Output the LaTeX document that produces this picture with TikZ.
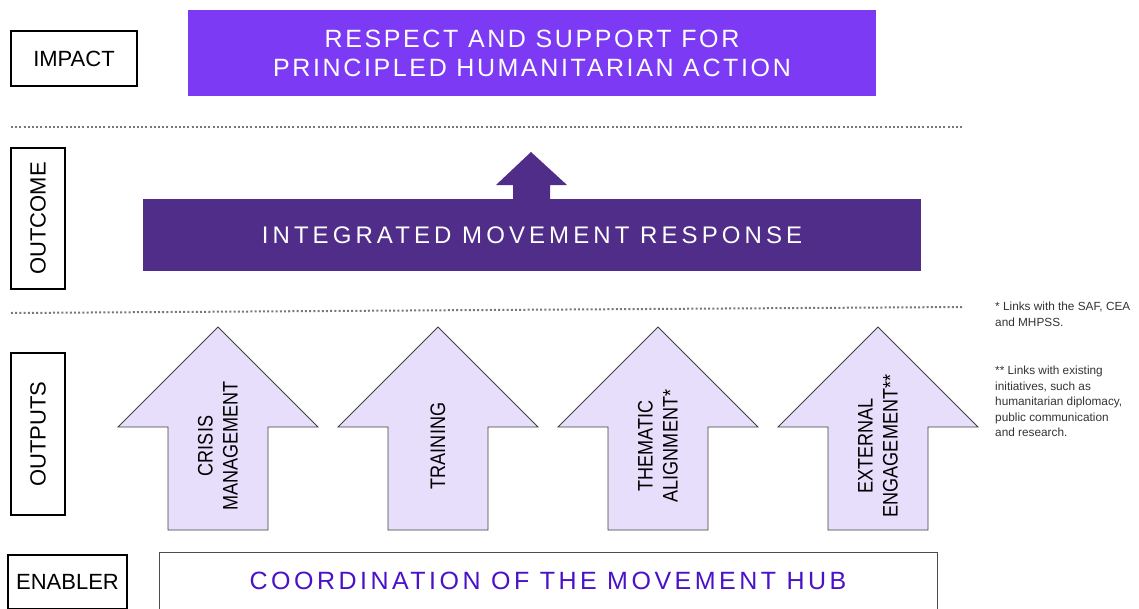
\documentclass[tikz,border=0pt]{standalone}
\usepackage{fontspec}
\setmainfont{Liberation Sans}
\newfontfamily\arrowfont[FakeStretch=0.86]{Liberation Sans}
\usepackage{xcolor}
\usetikzlibrary{positioning}

\definecolor{impactviolet}{RGB}{124,58,245}
\definecolor{outcomeviolet}{RGB}{79,45,137}
\definecolor{outputlilac}{RGB}{230,222,250}
\definecolor{hubindigo}{RGB}{74,18,200}
\definecolor{sepgrey}{RGB}{120,120,120}

\tikzset{
  levelbox/.style={draw=black, line width=1.3pt, inner sep=0pt,
    font=\fontsize{22}{26}\selectfont},
  sepline/.style={sepgrey, line width=2pt, dash pattern=on 2pt off 2.2pt},
  outarrow/.style={fill=outputlilac, draw=black!75, line width=0.9pt, line join=miter},
  arrowtext/.style={rotate=90, align=center, inner sep=0pt,
    font=\arrowfont\fontsize{21}{25}\selectfont},
  notetext/.style={anchor=north west, align=left, inner sep=0pt, text=black!80,
    font=\fontsize{11.8}{15.5}\selectfont}
}

\begin{document}
\begin{tikzpicture}[x=1pt, y=-1pt]
  \useasboundingbox (0,0) rectangle (1139,608);

  % level labels down the left side
  \node[levelbox, minimum width=126pt, minimum height=55pt] (impact) at (74,58.5) {IMPACT};
  \node[levelbox, rotate=90, minimum width=141pt, minimum height=54pt] (outcome) at (38,218.5) {OUTCOME};
  \node[levelbox, rotate=90, minimum width=162pt, minimum height=54pt] (outputs) at (38,434) {OUTPUTS};
  \node[levelbox, minimum width=119pt, minimum height=54pt] (enabler) at (67.5,582) {ENABLER};

  % impact
  \node[fill=impactviolet, text=white, align=center, minimum width=688pt, minimum height=86pt,
        font=\fontsize{25}{29}\selectfont\addfontfeature{LetterSpace=10.5}]
    (respect) at (532,53) {RESPECT AND SUPPORT FOR\\PRINCIPLED HUMANITARIAN ACTION};

  \draw[sepline] (11,127) -- (963,127);

  % outcome and its arrow
  \fill[outcomeviolet] (531,152) -- (567,185) -- (550,185) -- (550,200)
    -- (513,200) -- (513,185) -- (496,185) -- cycle;
  \node[fill=outcomeviolet, text=white, minimum width=778pt, minimum height=72pt,
        font=\fontsize{24}{28}\selectfont\addfontfeature{LetterSpace=17}]
    (response) at (532,235) {INTEGRATED MOVEMENT RESPONSE};

  \draw[sepline] (11,313) -- (962,307);

  % outputs
  \foreach \cx/\txt [count=\i] in {218/{CRISIS\\MANAGEMENT}, 438/{TRAINING},
      658/{THEMATIC\\ALIGNMENT*}, 878/{EXTERNAL\\ENGAGEMENT**}} {
    \draw[outarrow] (\cx,327) -- (\cx+100,427) -- (\cx+50,427) -- (\cx+50,530)
      -- (\cx-50,530) -- (\cx-50,427) -- (\cx-100,427) -- cycle;
    \node[arrowtext] (out\i) at (\cx,446) {\txt};
  }

  % enabler
  \node[draw=black!70, line width=1pt, text=hubindigo, minimum width=778pt, minimum height=58pt,
        font=\fontsize{25}{29}\selectfont\addfontfeature{LetterSpace=14}]
    (hub) at (548,581) {COORDINATION OF THE MOVEMENT HUB};

  % footnotes
  \node[notetext] (note1) at (995,302) {* Links with the SAF, CEA\\and MHPSS.};
  \node[notetext] (note2) at (995,366) {** Links with existing\\initiatives, such as\\humanitarian diplomacy,\\public communication\\and research.};
\end{tikzpicture}
\end{document}
